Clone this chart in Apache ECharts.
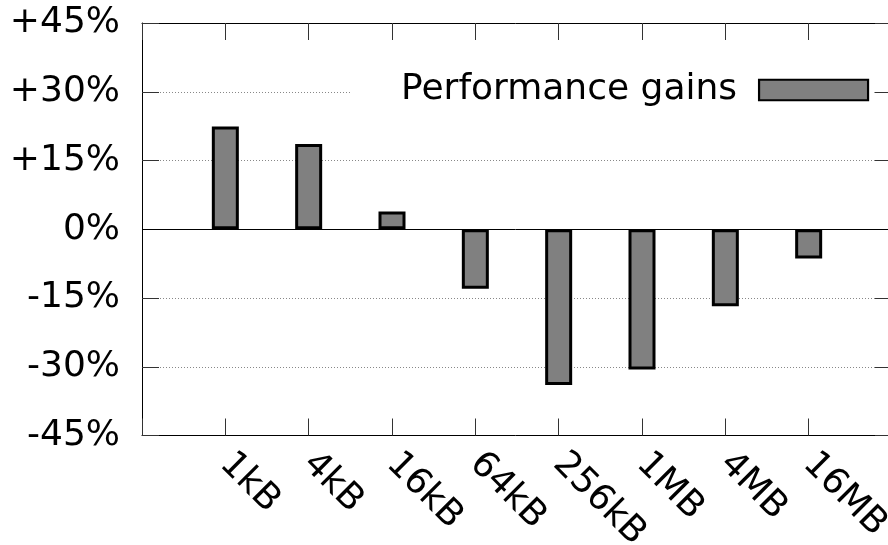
<!DOCTYPE html>
<html>
<head>
<meta charset="utf-8">
<script src="https://cdn.jsdelivr.net/npm/echarts@6/dist/echarts.min.js"></script>
<style>
  html, body { margin: 0; padding: 0; background: #fff; }
  #chart { width: 888px; height: 545px; }
</style>
</head>
<body>
<div id="chart"></div>
<script>
// Message sizes (blank slots pad the axis by one step on each side)
const sizes = ['', '1kB', '4kB', '16kB', '64kB', '256kB', '1MB', '4MB', '16MB', ''];
// Relative performance change, percent
const gains = [null, 22.4, 18.6, 3.9, -13.0, -34.0, -30.6, -16.8, -6.4, null];
// Y tick values and their labels
const yTicks = [-45, -30, -15, 0, 15, 30, 45];
const yTickLabels = ['-45%', '-30%', '-15%', '0%', '+15%', '+30%', '+45%'];
const seriesName = 'Performance gains';

const FONT = 'DejaVu Sans';
const chart = echarts.init(document.getElementById('chart'), null, { renderer: 'canvas' });

const tickStyle = { show: true, inside: true, length: 17, lineStyle: { color: '#333', width: 1 } };
const frameLine = { show: true, onZero: false, lineStyle: { color: '#000', width: 1 } };

chart.setOption({
  animation: false,
  backgroundColor: '#fff',
  grid: {
    left: 142, top: 23, width: 750, height: 412.5,
    containLabel: false,
    outerBoundsMode: 'none'
  },
  legend: {
    data: [seriesName],
    left: 352,
    top: 70,
    align: 'right',
    icon: 'rect',
    itemWidth: 109,
    itemHeight: 20.5,
    itemGap: 0,
    backgroundColor: '#fff',
    padding: [2, 5, 2, 49],
    textStyle: { fontSize: 36, fontFamily: FONT, color: '#000', padding: [3, 17, 0, 0] },
    itemStyle: { color: '#808080', borderColor: '#000', borderWidth: 2.2 }
  },
  xAxis: [
    {
      type: 'category',
      data: sizes,
      boundaryGap: false,
      position: 'bottom',
      axisLine: frameLine,
      axisTick: Object.assign({ interval: 0 }, tickStyle),
      axisLabel: {
        interval: 0,
        rotate: -45,
        margin: 23,
        fontSize: 36,
        fontFamily: FONT,
        color: '#000'
      },
      splitLine: { show: false }
    },
    {
      type: 'category',
      data: sizes,
      boundaryGap: false,
      position: 'top',
      axisLine: frameLine,
      axisTick: Object.assign({ interval: 0 }, tickStyle),
      axisLabel: { show: false },
      splitLine: { show: false }
    }
  ],
  yAxis: [
    {
      type: 'value',
      min: -45,
      max: 45,
      interval: 15,
      position: 'left',
      axisLine: frameLine,
      axisTick: tickStyle,
      axisLabel: {
        margin: 22,
        fontSize: 36,
        fontFamily: FONT,
        color: '#000',
        formatter: v => yTickLabels[yTicks.indexOf(v)]
      },
      splitLine: { show: true, lineStyle: { color: '#888', width: 1, type: [1, 2] } }
    },
    {
      type: 'value',
      min: -45,
      max: 45,
      interval: 15,
      position: 'right',
      axisLine: frameLine,
      axisTick: tickStyle,
      axisLabel: { show: false },
      splitLine: { show: false }
    }
  ],
  series: [
    {
      name: seriesName,
      type: 'bar',
      data: gains,
      barWidth: 27,
      itemStyle: { color: '#808080', borderColor: '#000', borderWidth: 3 },
      markLine: {
        silent: true,
        symbol: ['none', 'none'],
        label: { show: false },
        lineStyle: { color: '#000', width: 1, type: 'solid' },
        data: [{ yAxis: 0 }]
      }
    }
  ]
});
</script>
</body>
</html>
